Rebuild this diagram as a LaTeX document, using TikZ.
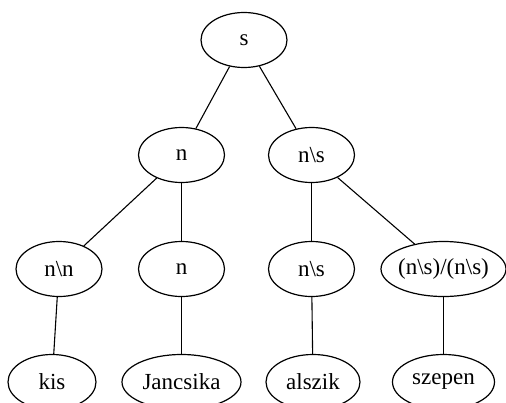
\documentclass[tikz,border=0pt]{standalone}
\usepackage{fontspec}
\setmainfont{Liberation Serif}
\usetikzlibrary{shapes.geometric}
\tikzset{
  tnode/.style={draw, ellipse, line width=1.2pt, inner sep=0pt,
    minimum height=55pt, font=\fontsize{23}{25}\selectfont},
  tedge/.style={line width=1.1pt}
}
\begin{document}
\begin{tikzpicture}[x=1pt, y=-1pt]
  \useasboundingbox (0,0) rectangle (506,402);
  % root
  \node[tnode, minimum width=86pt] (s) at (244,40) {s};
  % second level
  \node[tnode, minimum width=86pt] (n) at (181.5,155) {n};
  \node[tnode, minimum width=86pt] (ns) at (311.5,155) {n\textbackslash s};
  % third level
  \node[tnode, minimum width=86pt] (nn) at (59,269) {n\textbackslash n};
  \node[tnode, minimum width=86pt] (n2) at (181.5,269) {n};
  \node[tnode, minimum width=86pt] (ns2) at (311.5,269) {n\textbackslash s};
  \node[tnode, minimum width=125pt, inner xsep=-5pt] (adv) at (443.5,269) {(n\textbackslash s)/(n\textbackslash s)};
  % words
  \node[tnode, minimum width=88pt] (kis) at (52,382) {kis};
  \node[tnode, minimum width=119pt] (jan) at (181.5,382) {Jancsika};
  \node[tnode, minimum width=94pt] (alszik) at (313,382) {alszik};
  \node[tnode, minimum width=102pt] (szepen) at (443.5,382) {szepen};
  % branches
  \draw[tedge] (s) -- (n);
  \draw[tedge] (s) -- (ns);
  \draw[tedge] (n) -- (nn);
  \draw[tedge] (n) -- (n2);
  \draw[tedge] (ns) -- (ns2);
  \draw[tedge] (ns) -- (adv);
  \draw[tedge] (nn) -- (kis);
  \draw[tedge] (n2) -- (jan);
  \draw[tedge] (ns2) -- (alszik);
  \draw[tedge] (adv) -- (szepen);
\end{tikzpicture}
\end{document}
